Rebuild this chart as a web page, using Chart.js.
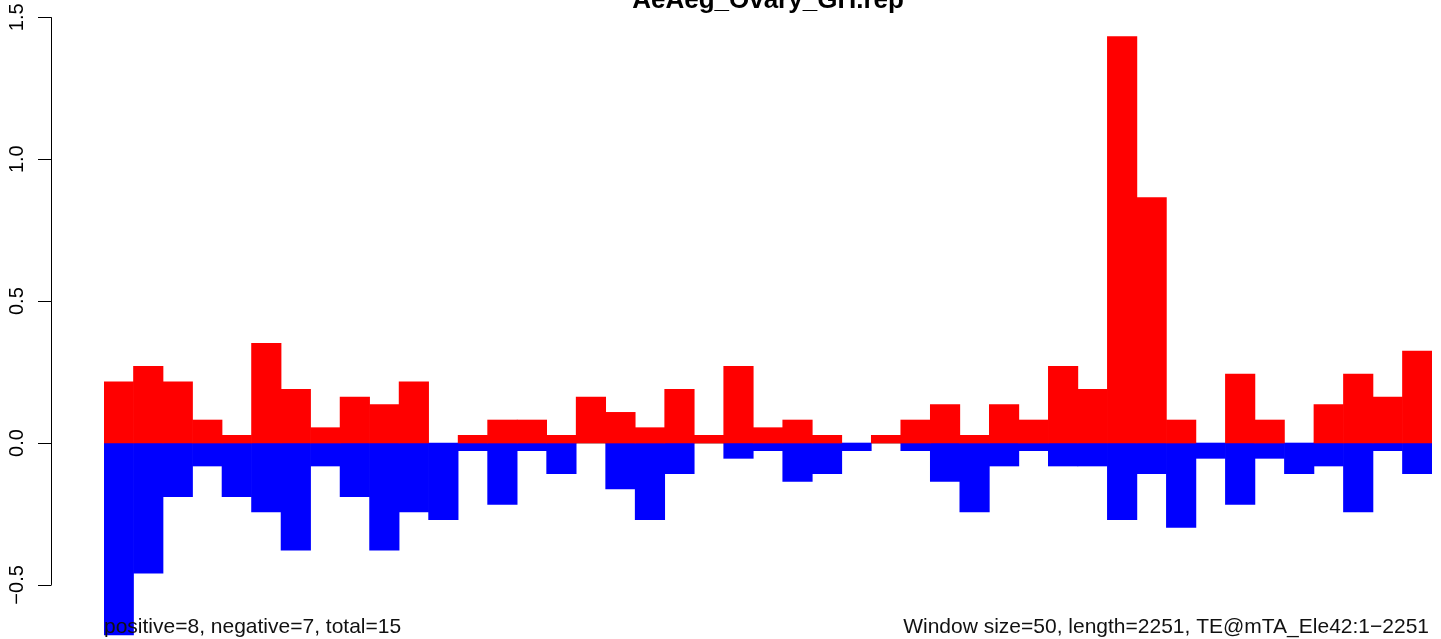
<!DOCTYPE html>
<html>
<head>
  <script src="https://cdn.jsdelivr.net/npm/chart.js"></script>
  <style>
    body { margin: 0; background: #fff; }
    #wrap { width: 1441px; height: 639px; }
  </style>
</head>
<body>
  <div id="wrap">
    <canvas id="repChart" width="1441" height="639"></canvas>
  </div>

  <script>
    // windows of 50 bp along the element (45 bins)
    var windows = [1,2,3,4,5,6,7,8,9,10,11,12,13,14,15,16,17,18,19,20,21,22,23,24,25,26,27,28,29,30,31,32,33,34,35,36,37,38,39,40,41,42,43,44,45];

    // sense (positive) coverage per window
    var positiveVals = [0.216,0.270,0.216,0.081,0.027,0.351,0.189,0.054,0.162,0.135,
                        0.216,0,0.027,0.081,0.081,0.027,0.162,0.108,0.054,0.189,
                        0.027,0.270,0.054,0.081,0.027,0,0.027,0.081,0.135,0.027,
                        0.135,0.081,0.270,0.189,1.432,0.865,0.081,0,0.243,0.081,
                        0,0.135,0.243,0.162,0.324];

    // antisense (negative) coverage per window
    var negativeVals = [-0.676,-0.459,-0.189,-0.081,-0.189,-0.243,-0.378,-0.081,-0.189,-0.378,
                        -0.243,-0.270,-0.027,-0.216,-0.027,-0.108,0,-0.162,-0.270,-0.108,
                        0,-0.054,-0.027,-0.135,-0.108,-0.027,0,-0.027,-0.135,-0.243,
                        -0.081,-0.027,-0.081,-0.081,-0.270,-0.108,-0.297,-0.054,-0.216,-0.054,
                        -0.108,-0.081,-0.243,-0.027,-0.108];

    var yTicks = [-0.5, 0, 0.5, 1.0, 1.5];
    var yTickLabels = ['\u22120.5', '0.0', '0.5', '1.0', '1.5'];

    var chartTitle = 'AeAeg_Ovary_GH.rep';
    var leftNote = 'positive=8, negative=7, total=15';
    var rightNote = 'Window size=50, length=2251, TE@mTA_Ele42:1\u22122251';

    var FONT = '"Liberation Sans", Arial, Helvetica, sans-serif';

    // empty windows should leave the gray baseline visible
    function inflate(ctx) {
      return ctx.raw === 0 ? 0 : 0.33;
    }

    // gray baseline at zero, drawn under the bars
    var zeroLine = {
      id: 'zeroLine',
      beforeDatasetsDraw: function(chart) {
        var ctx = chart.ctx, area = chart.chartArea;
        var y0 = Math.round(chart.scales.y.getPixelForValue(0)) + 0.5;
        ctx.save();
        ctx.strokeStyle = '#b4b4b4';
        ctx.lineWidth = 1;
        ctx.beginPath();
        ctx.moveTo(area.left, y0);
        ctx.lineTo(area.right, y0);
        ctx.stroke();
        ctx.restore();
      }
    };

    // R style left axis, title and footnotes
    var rDecor = {
      id: 'rDecor',
      afterDraw: function(chart) {
        var ctx = chart.ctx, yScale = chart.scales.y, area = chart.chartArea;
        var axisX = 51.5;
        ctx.save();
        ctx.strokeStyle = '#000';
        ctx.lineWidth = 1;
        ctx.beginPath();
        ctx.moveTo(axisX, yScale.getPixelForValue(yTicks[0]));
        ctx.lineTo(axisX, yScale.getPixelForValue(yTicks[yTicks.length - 1]));
        yTicks.forEach(function(t) {
          var py = Math.round(yScale.getPixelForValue(t)) + 0.5;
          ctx.moveTo(38, py);
          ctx.lineTo(axisX, py);
        });
        ctx.stroke();

        ctx.fillStyle = '#000';
        ctx.font = '20px ' + FONT;
        ctx.textAlign = 'center';
        ctx.textBaseline = 'alphabetic';
        yTicks.forEach(function(t, i) {
          var py = yScale.getPixelForValue(t);
          ctx.save();
          ctx.translate(23, py);
          ctx.rotate(-Math.PI / 2);
          ctx.fillText(yTickLabels[i], 0, 0);
          ctx.restore();
        });

        ctx.font = 'bold 26px ' + FONT;
        ctx.textAlign = 'center';
        ctx.fillText(chartTitle, (area.left + area.right) / 2, 8);

        ctx.font = '21px ' + FONT;
        ctx.fillStyle = '#111';
        ctx.textAlign = 'left';
        ctx.fillText(leftNote, area.left, 633);
        ctx.textAlign = 'right';
        ctx.fillText(rightNote, area.right - 3, 633);
        ctx.restore();
      }
    };

    var canvas = document.getElementById('repChart');
    new Chart(canvas, {
      type: 'bar',
      data: {
        labels: windows,
        datasets: [{
          label: 'positive',
          data: positiveVals,
          backgroundColor: '#ff0000',
          borderWidth: 0,
          inflateAmount: inflate,
          grouped: false,
          barPercentage: 1,
          categoryPercentage: 1
        }, {
          label: 'negative',
          data: negativeVals,
          backgroundColor: '#0000ff',
          borderWidth: 0,
          inflateAmount: inflate,
          grouped: false,
          barPercentage: 1,
          categoryPercentage: 1
        }]
      },
      options: {
        responsive: false,
        animation: false,
        layout: { padding: { left: 104, right: 9, top: 0, bottom: 0 } },
        plugins: {
          legend: { display: false },
          tooltip: { enabled: false }
        },
        scales: {
          x: { display: false },
          y: { display: false, min: -0.6906, max: 1.561 }
        }
      },
      plugins: [zeroLine, rDecor]
    });
  </script>
</body>
</html>
